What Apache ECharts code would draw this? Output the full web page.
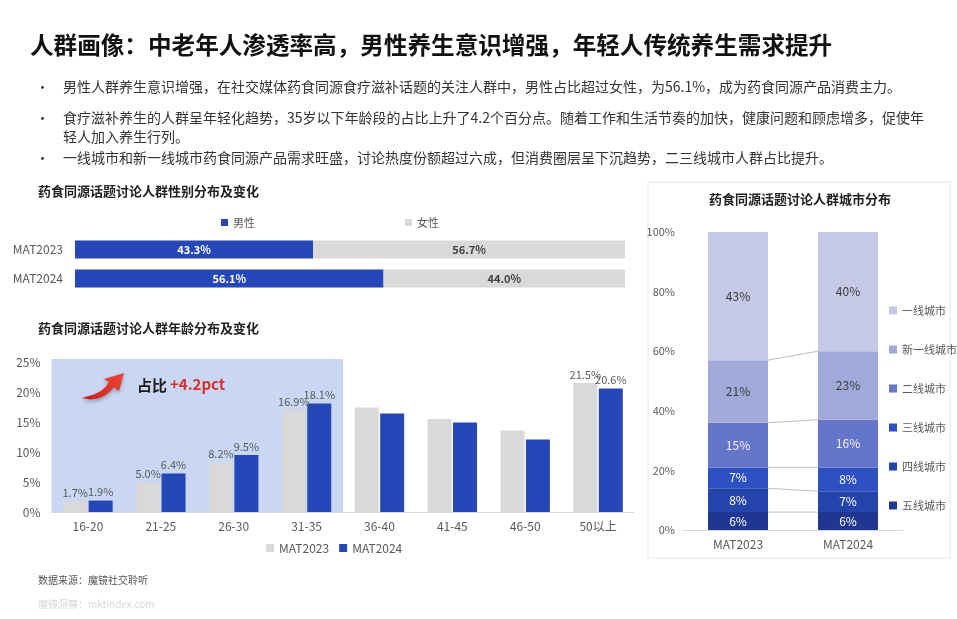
<!DOCTYPE html>
<html>
<head>
<meta charset="utf-8">
<script src="https://cdn.jsdelivr.net/npm/echarts@6/dist/echarts.min.js"></script>
<style>
html,body{margin:0;padding:0;background:#fff;}
#main{width:957px;height:619px;}
</style>
</head>
<body>
<div id="main"></div>
<script>
// ---------- data ----------
const genderCats = ['MAT2023', 'MAT2024'];
const maleShare = [43.3, 56.1];
const femaleShare = [56.7, 44.0];

const ageCats = ['16-20', '21-25', '26-30', '31-35', '36-40', '41-45', '46-50', '50以上'];
const age2023 = [1.7, 5.0, 8.2, 16.9, 17.4, 15.5, 13.6, 21.5];
const age2024 = [1.9, 6.4, 9.5, 18.1, 16.4, 14.9, 12.1, 20.6];
const ageLabelShown = [true, true, true, true, false, false, false, true];
const youngRange = [0, 3]; // 16-20 .. 31-35 highlighted
const ageMax = 25, ageStep = 5;

const cityCats = ['MAT2023', 'MAT2024'];
const cityNames = ['五线城市', '四线城市', '三线城市', '二线城市', '新一线城市', '一线城市'];
const city5 = [6, 6];
const city4 = [8, 7];
const city3 = [7, 8];
const city2 = [15, 16];
const cityNew1 = [21, 23];
const city1 = [43, 40];
const cityMax = 100, cityStep = 20;

const titleText = '人群画像：中老年人渗透率高，男性养生意识增强，年轻人传统养生需求提升';
const bulletLines = [
  ['男性人群养生意识增强，在社交媒体药食同源食疗滋补话题的关注人群中，男性占比超过女性，为56.1%，成为药食同源产品消费主力。'],
  ['食疗滋补养生的人群呈年轻化趋势，35岁以下年龄段的占比上升了4.2个百分点。随着工作和生活节奏的加快，健康问题和顾虑增多，促使年', '轻人加入养生行列。'],
  ['一线城市和新一线城市药食同源产品需求旺盛，讨论热度份额超过六成，但消费圈层呈下沉趋势，二三线城市人群占比提升。']
];

// ---------- style ----------
const FONT = '"Noto Sans CJK SC", "Noto Sans", sans-serif';
const BLUE = '#2547b8';
const GRAY = '#d9d9d9';
const AXIS_TXT = '#595959';
const cityColors = ['#1f3790', '#2443ab', '#2d50c4', '#6575c9', '#a0a9d8', '#c5c9e6'];
const cityLabelColors = ['#fff', '#fff', '#fff', '#f2f2f2', '#3a3a3a', '#3a3a3a'];
const cityBarWidth = 60;

const cityData = [city5, city4, city3, city2, cityNew1, city1];

// cumulative boundaries for connector lines
const boundaries = [];
{
  let c0 = 0, c1 = 0;
  for (let i = 0; i < cityData.length - 1; i++) {
    c0 += cityData[i][0];
    c1 += cityData[i][1];
    boundaries.push([0, c0, c1]);
  }
}

const chart = echarts.init(document.getElementById('main'));

function txt(x, y, text, font, fill, align) {
  return {
    type: 'text', x: x, y: y, z: 10,
    style: {text: text, font: font, fill: fill, verticalAlign: 'middle', align: align || 'left'}
  };
}

// graphics: title, bullets, subtitles, footer
const graphics = [];
graphics.push(txt(30, 45, titleText, 'bold 23.6px ' + FONT, '#111'));
const bulletYs = [[87], [118, 137], [158]];
bulletLines.forEach((lines, i) => {
  graphics.push(txt(36, bulletYs[i][0], '•', '13px ' + FONT, '#333'));
  lines.forEach((ln, j) => {
    graphics.push(txt(63, bulletYs[i][j], ln, '14px ' + FONT, '#333'));
  });
});
graphics.push(txt(38, 191, '药食同源话题讨论人群性别分布及变化', 'bold 13px ' + FONT, '#222'));
graphics.push(txt(38, 328, '药食同源话题讨论人群年龄分布及变化', 'bold 13px ' + FONT, '#222'));
graphics.push({type: 'rect', z: 0, shape: {x: 648, y: 182, width: 302, height: 376}, style: {fill: 'rgba(255,255,255,0)', stroke: '#e6e6e6', lineWidth: 1}});
graphics.push(txt(800, 199, '药食同源话题讨论人群城市分布', 'bold 13px ' + FONT, '#222', 'center'));
graphics.push(txt(38, 580, '数据来源：魔镜社交聆听', '10px ' + FONT, '#555'));
graphics.push(txt(38, 604, '魔镜洞察：mktindex.com', '10px ' + FONT, '#d8d8d8'));
// red arrow + annotation
graphics.push({
  type: 'polygon', x: 82, y: 371, z: 10,
  shape: {points: [[0, 27], [8, 28.5], [16, 27.5], [23, 24.5], [28, 20.5], [32, 16], [37, 20], [42, 2], [22, 8], [27, 11], [24, 15.5], [19, 20], [12, 23.5], [5, 25.5]]},
  style: {
    fill: {type: 'linear', x: 0, y: 1, x2: 1, y2: 0, colorStops: [{offset: 0, color: '#c81e1a'}, {offset: 1, color: '#f0453a'}]},
    shadowBlur: 4, shadowColor: 'rgba(0,0,0,0.3)', shadowOffsetY: 2
  }
});
graphics.push(txt(137, 385, '占比', 'bold 15px ' + FONT, '#1a1a1a'));
graphics.push(txt(170, 384, '+4.2pct', 'bold 15px ' + FONT, '#d9302c'));

const option = {
  animation: false,
  textStyle: {fontFamily: FONT},
  graphic: {elements: graphics},
  legend: [
    {
      data: ['男性', '女性'], left: 216, top: 212, itemWidth: 7, itemHeight: 7, itemGap: 150,
      icon: 'rect', textStyle: {color: AXIS_TXT, fontSize: 11}
    },
    {
      data: ['MAT2023', 'MAT2024'], left: 261, top: 537, itemWidth: 8, itemHeight: 8, itemGap: 10,
      icon: 'rect', textStyle: {color: AXIS_TXT, fontSize: 12}
    },
    {
      data: cityNames.slice().reverse(), orient: 'vertical', left: 884, top: 300, itemWidth: 8, itemHeight: 8, itemGap: 28,
      icon: 'rect', textStyle: {color: AXIS_TXT, fontSize: 11}
    }
  ],
  grid: [
    {left: 75, right: 332, top: 235, height: 58},
    {left: 51.5, right: 322.5, top: 362, bottom: 107},
    {left: 683, right: 54, top: 232, bottom: 89}
  ],
  xAxis: [
    {gridIndex: 0, type: 'value', min: 0, max: 100, show: false},
    {
      gridIndex: 1, type: 'category', data: ageCats,
      axisLine: {lineStyle: {color: '#d9d9d9'}}, axisTick: {show: false},
      axisLabel: {color: AXIS_TXT, fontSize: 12, margin: 8}
    },
    {
      gridIndex: 2, type: 'category', data: cityCats,
      axisLine: {lineStyle: {color: '#d9d9d9'}}, axisTick: {show: false},
      axisLabel: {color: AXIS_TXT, fontSize: 12, margin: 8}
    }
  ],
  yAxis: [
    {
      gridIndex: 0, type: 'category', data: genderCats, inverse: true,
      axisLine: {show: false}, axisTick: {show: false},
      axisLabel: {color: AXIS_TXT, fontSize: 12, margin: 12}
    },
    {
      gridIndex: 1, type: 'value', min: 0, max: ageMax, interval: ageStep,
      splitLine: {show: false}, axisLine: {show: false}, axisTick: {show: false},
      axisLabel: {color: AXIS_TXT, fontSize: 12, margin: 11, formatter: '{value}%'}
    },
    {
      gridIndex: 2, type: 'value', min: 0, max: cityMax, interval: cityStep,
      splitLine: {show: false}, axisLine: {show: false}, axisTick: {show: false},
      axisLabel: {color: AXIS_TXT, fontSize: 11, margin: 8, formatter: '{value}%'}
    }
  ],
  series: [
    {
      name: '男性', type: 'bar', stack: 'g', xAxisIndex: 0, yAxisIndex: 0, data: maleShare, barWidth: 18,
      itemStyle: {color: BLUE},
      label: {show: true, position: 'inside', color: '#fff', fontSize: 11, fontWeight: 'bold', formatter: p => p.value.toFixed(1) + '%'}
    },
    {
      name: '女性', type: 'bar', stack: 'g', xAxisIndex: 0, yAxisIndex: 0, data: femaleShare, barWidth: 18,
      itemStyle: {color: GRAY},
      label: {show: true, position: 'inside', color: '#404040', fontSize: 11, fontWeight: 'bold', formatter: p => p.value.toFixed(1) + '%'}
    },
    {
      name: 'highlight', type: 'custom', xAxisIndex: 1, yAxisIndex: 1, z: 0, silent: true,
      data: [[youngRange[0], youngRange[1], ageMax]],
      encode: {x: 0, y: 2},
      renderItem: (params, api) => {
        const band = api.size([1, 0])[0];
        const pStart = api.coord([api.value(0), api.value(2)]);
        const pEnd = api.coord([api.value(1), 0]);
        return {
          type: 'rect',
          shape: {x: pStart[0] - band / 2, y: pStart[1] - 3, width: pEnd[0] - pStart[0] + band, height: pEnd[1] - pStart[1] + 3},
          style: {fill: '#c9d7f3'}
        };
      }
    },
    {
      name: 'MAT2023', type: 'bar', xAxisIndex: 1, yAxisIndex: 1, barWidth: 24, barGap: '6%', z: 2,
      data: age2023.map((v, i) => ({value: v, label: {show: ageLabelShown[i]}})),
      itemStyle: {color: GRAY},
      label: {position: 'top', distance: 3, color: AXIS_TXT, fontSize: 11, formatter: p => p.value.toFixed(1) + '%'}
    },
    {
      name: 'MAT2024', type: 'bar', xAxisIndex: 1, yAxisIndex: 1, barWidth: 24, z: 2,
      data: age2024.map((v, i) => ({value: v, label: {show: ageLabelShown[i]}})),
      itemStyle: {color: BLUE},
      label: {position: 'top', distance: 3, color: AXIS_TXT, fontSize: 11, formatter: p => p.value.toFixed(1) + '%'}
    },
    ...cityNames.map((name, i) => ({
      name, type: 'bar', stack: 'city', xAxisIndex: 2, yAxisIndex: 2, barWidth: cityBarWidth,
      data: cityData[i], itemStyle: {color: cityColors[i]},
      label: {show: true, position: 'inside', color: cityLabelColors[i], fontSize: 12, formatter: '{c}%'}
    })),
    {
      name: 'connectors', type: 'custom', xAxisIndex: 2, yAxisIndex: 2, silent: true, z: 3,
      data: boundaries, encode: {x: 0, y: 1},
      renderItem: (params, api) => {
        const a = api.coord([0, api.value(1)]);
        const b = api.coord([1, api.value(2)]);
        return {
          type: 'line',
          shape: {x1: a[0] + cityBarWidth / 2, y1: a[1], x2: b[0] - cityBarWidth / 2, y2: b[1]},
          style: {stroke: '#bfbfbf', lineWidth: 1}
        };
      }
    }
  ]
};
chart.setOption(option);
</script>
</body>
</html>
